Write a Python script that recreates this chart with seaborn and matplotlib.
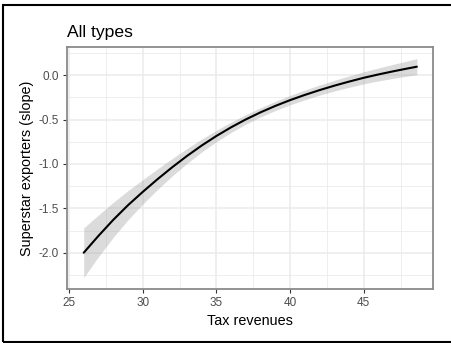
import matplotlib
matplotlib.use("Agg")
import matplotlib.pyplot as plt
import matplotlib.patches as mpatches
from matplotlib.ticker import MultipleLocator
import numpy as np
import pandas as pd
import seaborn as sns

# Fitted curve: tax revenues vs. superstar exporters slope, with confidence band
tax_revenues = [26, 27, 28, 29, 30, 31, 32, 33, 34, 35, 36, 37, 38, 39, 40,
                41, 42, 43, 44, 45, 46, 47, 48, 48.6]
slope_fit = [-2.000, -1.810, -1.630, -1.465, -1.315, -1.172, -1.037, -0.910,
             -0.792, -0.684, -0.586, -0.497, -0.417, -0.345, -0.280, -0.221,
             -0.167, -0.117, -0.071, -0.028, 0.010, 0.045, 0.078, 0.097]
slope_lower = [-2.280, -2.045, -1.827, -1.630, -1.453, -1.288, -1.135, -0.994,
               -0.865, -0.748, -0.644, -0.551, -0.469, -0.397, -0.333, -0.276,
               -0.224, -0.177, -0.135, -0.096, -0.063, -0.034, -0.008, 0.006]
slope_upper = [-1.720, -1.575, -1.433, -1.300, -1.177, -1.056, -0.939, -0.826,
               -0.719, -0.620, -0.528, -0.443, -0.365, -0.293, -0.227, -0.166,
               -0.110, -0.057, -0.007, 0.040, 0.083, 0.124, 0.164, 0.188]

x_ticks = [25, 30, 35, 40, 45]
y_ticks = [0.0, -0.5, -1.0, -1.5, -2.0]
y_tick_labels = ["0.0", "-0.5", "-1.0", "-1.5", "-2.0"]

df = pd.DataFrame({"tax": tax_revenues, "fit": slope_fit,
                   "lo": slope_lower, "hi": slope_upper})

sns.set_theme(style="white")
plt.rcParams["font.family"] = ["Liberation Sans", "DejaVu Sans"]

W, H = 451, 343
fig = plt.figure(figsize=(W / 100, H / 100), dpi=100)
fig.patch.set_facecolor("white")

# panel placement in pixels
left, right, top, bottom = 67.3, 433.3, 46.7, 289.3
ax = fig.add_axes([left / W, 1 - bottom / H, (right - left) / W, (bottom - top) / H])
ax.set_facecolor("white")

# confidence band and fitted line
ax.fill_between(df["tax"], df["lo"], df["hi"], color="#999999", alpha=0.35,
                linewidth=0, zorder=2)
sns.lineplot(data=df, x="tax", y="fit", ax=ax, color="black", linewidth=1.5,
             zorder=3)

ax.set_xlim(24.885, 49.715)
ax.set_ylim(-2.4126, 0.3224)

# grid: major and minor lines
ax.xaxis.set_major_locator(MultipleLocator(5))
ax.xaxis.set_minor_locator(MultipleLocator(2.5))
ax.yaxis.set_major_locator(MultipleLocator(0.5))
ax.yaxis.set_minor_locator(MultipleLocator(0.25))
ax.set_xticks(x_ticks)
ax.set_yticks(y_ticks)
ax.set_yticklabels(y_tick_labels)
ax.grid(which="major", color="#EBEBEB", linewidth=1.1, zorder=0)
ax.grid(which="minor", color="#EBEBEB", linewidth=0.6, zorder=0)
ax.set_axisbelow(True)

ax.tick_params(axis="both", which="major", length=3.2, width=0.8, color="#333333",
               labelsize=8.5, labelcolor="#4D4D4D", pad=2.6, direction="out",
               bottom=True, left=True)
ax.tick_params(axis="both", which="minor", length=0)

for sp in ax.spines.values():
    sp.set_color("#8A8A8A")
    sp.set_linewidth(1.3)

ax.set_xlabel("Tax revenues", fontsize=10.4, color="black")
ax.xaxis.label.set_va("baseline")
ax.xaxis.set_label_coords(0.5, (bottom - 325) / (bottom - top))

ax.set_ylabel("Superstar exporters (slope)", fontsize=10.4, color="black")
ax.yaxis.label.set_va("center")
ax.yaxis.set_label_coords((27.5 - left) / (right - left), 0.5)

ax.text(0.0, (bottom - 36.7) / (bottom - top), "All types", transform=ax.transAxes,
        fontsize=12.6, color="black", ha="left", va="baseline")

# outer frame around the figure
frame = mpatches.Rectangle((2.5 / W, 1 - 341.5 / H), 1.05, (341.5 - 4.5) / H,
                           transform=fig.transFigure, fill=False,
                           edgecolor="black", linewidth=1.5, clip_on=False)
fig.patches.append(frame)

fig.savefig("out.png", dpi=100, facecolor="white")
